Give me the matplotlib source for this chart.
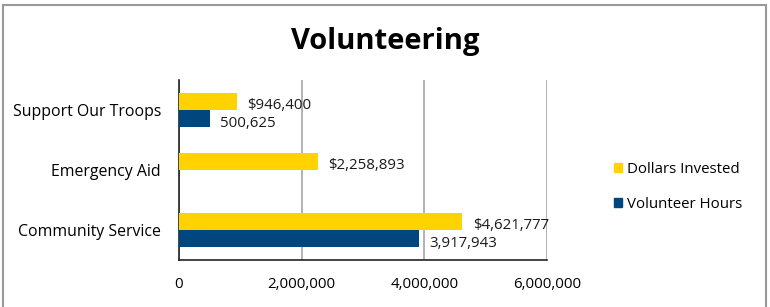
import matplotlib
matplotlib.use("Agg")
import matplotlib.pyplot as plt
from matplotlib.patches import Rectangle
import numpy as np

categories = ["Community Service", "Emergency Aid", "Support Our Troops"]
dollars_invested = [4621777, 2258893, 946400]
volunteer_hours = [3917943, 0, 500625]
dollar_labels = ["$4,621,777", "$2,258,893", "$946,400"]
hour_labels = ["3,917,943", "", "500,625"]
x_ticks = [0, 2000000, 4000000, 6000000]
x_tick_labels = ["0", "2,000,000", "4,000,000", "6,000,000"]

YELLOW = "#FFD200"
BLUE = "#00467F"
FONT = ["Open Sans", "DejaVu Sans"]

plt.rcParams["font.family"] = FONT

W, H = 770, 307
fig = plt.figure(figsize=(W / 100, H / 100), dpi=100)

# axes placement in pixels
left, right, top, bottom = 179, 547, 80, 260
ax = fig.add_axes([left / W, 1 - bottom / H, (right - left) / W, (bottom - top) / H])

y = np.arange(len(categories))
bh = 0.29
ax.barh(y + bh / 2, dollars_invested, height=bh, color=YELLOW, label="Dollars Invested", zorder=3)
ax.barh(y - bh / 2, volunteer_hours, height=bh, color=BLUE, label="Volunteer Hours", zorder=3)

for i in range(len(categories)):
    ax.text(dollars_invested[i] + 170000, y[i] + bh / 2 - 0.07, dollar_labels[i],
            va="center", ha="left", fontsize=10.8, color="#1a1a1a", zorder=4)
    if hour_labels[i]:
        ax.text(volunteer_hours[i] + 170000, y[i] - bh / 2 - 0.08, hour_labels[i],
                va="center", ha="left", fontsize=10.8, color="#1a1a1a", zorder=4)

ax.set_xlim(0, 6000000)
ax.set_ylim(-0.5, 2.5)
ax.set_xticks(x_ticks)
ax.set_xticklabels(x_tick_labels, fontsize=10.8)
ax.set_yticks(y)
ax.set_yticklabels(categories, fontsize=11.4)
ax.tick_params(axis="both", length=0)
ax.tick_params(axis="x", pad=12)
ax.tick_params(axis="y", pad=13)
ax.grid(axis="x", color="#A6A6A6", linewidth=1.2, zorder=0)
for s in ["top", "right"]:
    ax.spines[s].set_visible(False)
ax.spines["left"].set_color("#222222")
ax.spines["bottom"].set_color("#222222")
ax.spines["left"].set_linewidth(1.2)
ax.spines["bottom"].set_linewidth(1.2)

fig.text(385 / W, 1 - 42 / H, "Volunteering", ha="center", va="center",
         fontsize=21, fontweight="bold", family=FONT)

handles = [Rectangle((0, 0), 1, 1, color=YELLOW), Rectangle((0, 0), 1, 1, color=BLUE)]
leg = fig.legend(handles, ["Dollars Invested", "Volunteer Hours"],
                 loc="center left", bbox_to_anchor=(600 / W, 1 - 187 / H),
                 frameon=False, fontsize=10.8, handlelength=0.55, handleheight=0.55,
                 handletextpad=0.35, labelspacing=1.3)

# outer frame
fig.patches.append(Rectangle((3 / W, -0.05), (766 - 3) / W, 1.05 - 5 / H,
                             transform=fig.transFigure, fill=False,
                             edgecolor="#999999", linewidth=1.5))

fig.savefig("out.png", dpi=100)
